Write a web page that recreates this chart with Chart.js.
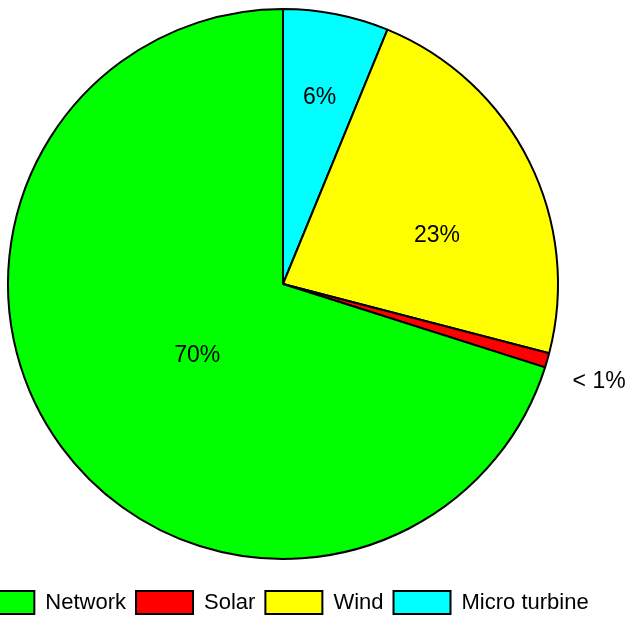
<!DOCTYPE html>
<html>
<head>
<meta charset="utf-8">
<script src="https://cdn.jsdelivr.net/npm/chart.js@4.4.1/dist/chart.umd.min.js"></script>
<style>
  html, body { margin: 0; padding: 0; background: #fff; overflow: hidden; width: 628px; height: 617px; }
  #wrap { position: absolute; left: -67px; top: -13px; width: 700px; height: 637px; }
</style>
</head>
<body>
<div id="wrap"><canvas id="chart1" width="700" height="637"></canvas></div>
<script>
// legend order
var categories = ['Network', 'Solar', 'Wind', 'Micro turbine'];
var shares = [70.1, 0.85, 22.85, 6.2];
var shareLabels = ['70%', '< 1%', '23%', '6%'];
var colors = ['#00ff00', '#ff0000', '#ffff00', '#00ffff'];

// where each percentage sits: fraction along the slice, fraction of radius
var labelAngleFrac = [0.49, 0.69, 0.60, 0.49];
var labelRadiusFrac = [0.40, 1.20, 0.59, 0.70];

// the pie runs clockwise from the top: Micro turbine, Wind, Solar, Network
function rev(a) { return a.slice().reverse(); }

var FONT = '"Liberation Sans", Arial, sans-serif';

var sliceLabels = {
  id: 'sliceLabels',
  afterDatasetsDraw: function(chart) {
    var ctx = chart.ctx;
    var meta = chart.getDatasetMeta(0);
    var txt = rev(shareLabels), af = rev(labelAngleFrac), rf = rev(labelRadiusFrac);
    ctx.save();
    ctx.font = '23px ' + FONT;
    ctx.fillStyle = '#000';
    ctx.textAlign = 'center';
    ctx.textBaseline = 'middle';
    meta.data.forEach(function(arc, i) {
      var p = arc.getProps(['x', 'y', 'startAngle', 'endAngle', 'outerRadius'], true);
      var a = p.startAngle + (p.endAngle - p.startAngle) * af[i];
      var r = p.outerRadius * rf[i];
      // digits have no descenders, nudge down so the glyphs look centred
      ctx.fillText(txt[i], p.x + Math.cos(a) * r, p.y + Math.sin(a) * r + 3);
    });
    ctx.restore();
  }
};

var ctx = document.getElementById('chart1').getContext('2d');
var myChart = new Chart(ctx, {
  type: 'pie',
  data: {
    labels: rev(categories),
    datasets: [{
      data: rev(shares),
      backgroundColor: rev(colors),
      borderColor: '#000',
      borderWidth: 2,
      radius: 275
    }]
  },
  options: {
    responsive: false,
    animation: false,
    devicePixelRatio: 1,
    layout: { padding: 0 },
    plugins: {
      tooltip: { enabled: false },
      legend: {
        position: 'bottom',
        reverse: true,
        labels: {
          boxWidth: 57,
          boxHeight: 23,
          padding: 10,
          color: '#000',
          font: { family: FONT, size: 22 }
        }
      }
    }
  },
  plugins: [sliceLabels]
});
</script>
</body>
</html>
